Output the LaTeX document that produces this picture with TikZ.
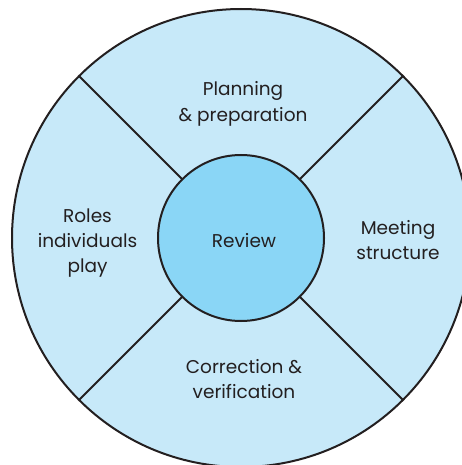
\documentclass[tikz,border=0pt]{standalone}
\usepackage{fontspec}
\setmainfont{Poppins}
\definecolor{ringfill}{HTML}{C7E9F9}
\definecolor{corefill}{HTML}{8AD6F6}
\definecolor{inkc}{HTML}{231F20}
\begin{document}
\begin{tikzpicture}[x=1pt,y=-1pt,
  ring/.style={circle,draw=inkc,line width=2pt,fill=ringfill,minimum size=458pt,inner sep=0pt,outer sep=0pt},
  core/.style={circle,draw=inkc,line width=2pt,fill=corefill,minimum size=166pt,inner sep=0pt,outer sep=0pt},
  divider/.style={draw=inkc,line width=2pt},
  lbl/.style={anchor=base,inner sep=0pt,text=inkc,font=\fontsize{18.5}{25}\selectfont}]
\useasboundingbox (0,0) rectangle (462,465);
\clip (0,0) rectangle (462,465);
\node[ring] (outer) at (241,238) {};
\node[core] (review) at (241,238) {};
\draw[divider] (review.45) -- (outer.45);
\draw[divider] (review.135) -- (outer.135);
\draw[divider] (review.225) -- (outer.225);
\draw[divider] (review.315) -- (outer.315);
\node[lbl] (rv) at (244,247) {Review};
\node[lbl] (p1) at (243,96) {Planning};
\node[lbl] (p2) at (243,122) {\& preparation};
\node[lbl] (r1) at (87.5,222) {Roles};
\node[lbl] (r2) at (87.5,247) {individuals};
\node[lbl] (r3) at (87.5,272) {play};
\node[lbl] (m1) at (398,234) {Meeting};
\node[lbl] (m2) at (398,259) {structure};
\node[lbl] (c1) at (244,373) {Correction \&};
\node[lbl] (c2) at (244,398) {verification};
\end{tikzpicture}
\end{document}
